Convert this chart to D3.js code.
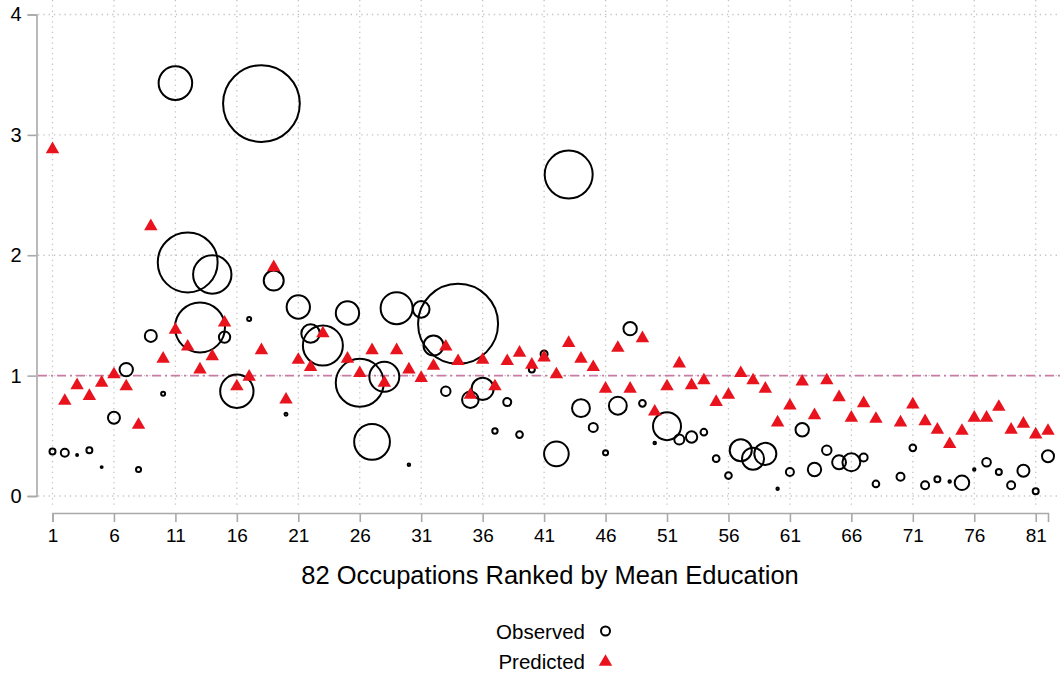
<!DOCTYPE html>
<html>
<head>
<meta charset="utf-8">
<script src="https://cdn.jsdelivr.net/npm/d3@7"></script>
<style>
  body { margin: 0; background: #fff; }
  svg { font-family: "Liberation Sans", Arial, Helvetica, sans-serif; }
</style>
</head>
<body>
<div id="chart"></div>
<script>
// occupations ranked 1..82 by mean education (24 and 69 not plotted)
const ranks = d3.range(1, 83);

const observed = [
  0.37, 0.36, 0.34, 0.38, 0.24, 0.65, 1.05, 0.22, 1.33, 0.85,
  3.43, 1.94, 1.40, 1.84, 1.32, 0.87, 1.47, 3.26, 1.79, 0.68,
  1.57, 1.35, 1.25, null, 1.52, 0.94, 0.45, 0.99, 1.56, 0.26,
  1.55, 1.25, 0.87, 1.43, 0.80, 0.89, 0.54, 0.78, 0.51, 1.05,
  1.18, 0.35, 2.67, 0.73, 0.57, 0.36, 0.75, 1.39, 0.77, 0.44,
  0.58, 0.47, 0.49, 0.53, 0.31, 0.17, 0.38, 0.31, 0.35, 0.06,
  0.20, 0.55, 0.22, 0.38, 0.28, 0.28, 0.32, 0.10, null, 0.16,
  0.40, 0.09, 0.14, 0.12, 0.11, 0.22, 0.28, 0.20, 0.09, 0.21,
  0.04, 0.33
];

// weights that size the observed circles
const weights = [
  0.56, 1, 0.06, 0.56, 0.06, 2.25, 2.8, 0.4, 2.25, 0.25,
  17.6, 56, 39, 23, 2, 17.4, 0.25, 92, 6.25, 0.14,
  8.5, 5.4, 25, null, 8.5, 36, 20, 14, 16, 0.1,
  4.3, 6.25, 1.4, 100, 4.3, 7.6, 0.45, 1, 0.7, 0.56,
  0.77, 9.5, 36, 5, 1.27, 0.4, 5, 2.8, 0.7, 0.1,
  12.25, 1.56, 2, 0.7, 0.7, 0.7, 7.6, 7.6, 7.6, 0.09,
  1, 2.8, 2.8, 1.4, 3, 5, 1, 0.7, null, 1,
  0.7, 1, 0.56, 0.09, 3.3, 0.09, 1.16, 0.56, 1, 2.25,
  0.56, 2.25
];

const predicted = [
  2.88, 0.79, 0.92, 0.83, 0.94, 1.01, 0.91, 0.59, 2.24, 1.14,
  1.38, 1.24, 1.05, 1.16, 1.44, 0.91, 0.99, 1.21, 1.90, 0.80,
  1.13, 1.07, 1.35, null, 1.14, 1.02, 1.21, 0.94, 1.21, 1.05,
  0.98, 1.08, 1.24, 1.12, 0.84, 1.13, 0.91, 1.12, 1.19, 1.09,
  1.15, 1.01, 1.27, 1.14, 1.07, 0.89, 1.23, 0.89, 1.31, 0.70,
  0.91, 1.10, 0.92, 0.96, 0.78, 0.84, 1.02, 0.96, 0.89, 0.61,
  0.75, 0.95, 0.67, 0.96, 0.82, 0.65, 0.77, 0.64, null, 0.61,
  0.76, 0.62, 0.55, 0.43, 0.54, 0.65, 0.65, 0.74, 0.55, 0.60,
  0.51, 0.54
];

const xTicks = [1, 6, 11, 16, 21, 26, 31, 36, 41, 46, 51, 56, 61, 66, 71, 76, 81];
const yTicks = [0, 1, 2, 3, 4];
const refValue = 1;
const xTitle = "82 Occupations Ranked by Mean Education";
const legendLabels = ["Observed", "Predicted"];

const W = 1060, H = 677;
const red = "#e8131d";
const axisGrey = "#a9a9a9";
const gridGrey = "#c4c4c4";

const svg = d3.select("#chart").append("svg")
  .attr("width", W)
  .attr("height", H);

const x = d3.scaleLinear().domain([1, 82]).range([52.5, 1048]);
const y = d3.scaleLinear().domain([0, 4]).range([496, 14.5]);
const r = d3.scaleSqrt().domain([0, 100]).range([0, 40]);

// grid
svg.append("g").selectAll("line")
  .data(yTicks)
  .enter().append("line")
  .attr("x1", 38).attr("x2", W)
  .attr("y1", d => y(d)).attr("y2", d => y(d))
  .attr("stroke", gridGrey)
  .attr("stroke-width", 1.3)
  .attr("stroke-dasharray", "1.3,4");

svg.append("g").selectAll("line")
  .data(xTicks)
  .enter().append("line")
  .attr("x1", d => x(d)).attr("x2", d => x(d))
  .attr("y1", 0).attr("y2", 506)
  .attr("stroke", gridGrey)
  .attr("stroke-width", 1.3)
  .attr("stroke-dasharray", "1.3,4");

// y axis
const yAxis = svg.append("g")
  .attr("transform", "translate(36.5,0)")
  .call(d3.axisLeft(y).tickValues(yTicks).tickSize(9).tickPadding(6).tickFormat(d3.format("d")));
yAxis.select(".domain").attr("stroke", axisGrey).attr("stroke-width", 1.6);
yAxis.selectAll(".tick line").attr("stroke", axisGrey).attr("stroke-width", 1.6);
yAxis.selectAll("text")
  .attr("font-size", 20)
  .attr("fill", "#000")
  .attr("font-family", "Liberation Sans, Arial, sans-serif");

// x axis
const xAxis = svg.append("g")
  .attr("transform", "translate(0,513)")
  .call(d3.axisBottom(x).tickValues(xTicks).tickSize(9).tickPadding(7).tickFormat(d3.format("d")));
xAxis.select(".domain").attr("stroke", axisGrey).attr("stroke-width", 1.6);
xAxis.selectAll(".tick line").attr("stroke", axisGrey).attr("stroke-width", 1.6);
xAxis.selectAll("text")
  .attr("font-size", 19)
  .attr("fill", "#000")
  .attr("font-family", "Liberation Sans, Arial, sans-serif");

// reference line at 1
svg.append("line")
  .attr("x1", 38).attr("x2", W)
  .attr("y1", y(refValue)).attr("y2", y(refValue))
  .attr("stroke", "#c97ba6")
  .attr("stroke-width", 1.6)
  .attr("stroke-dasharray", "9,4,2,4");

const obsData = ranks.map((k, i) => ({ k: k, v: observed[i], w: weights[i] }))
  .filter(d => d.v !== null);
const predData = ranks.map((k, i) => ({ k: k, v: predicted[i] }))
  .filter(d => d.v !== null);

// observed circles
svg.append("g").selectAll("circle")
  .data(obsData)
  .enter().append("circle")
  .attr("cx", d => x(d.k))
  .attr("cy", d => y(d.v))
  .attr("r", d => Math.max(r(d.w), 0.9))
  .attr("fill", "none")
  .attr("stroke", "#000")
  .attr("stroke-width", 2);

// predicted triangles
const tri = d3.symbol().type(d3.symbolTriangle).size(78);
svg.append("g").selectAll("path")
  .data(predData)
  .enter().append("path")
  .attr("d", tri)
  .attr("transform", d => "translate(" + x(d.k) + "," + y(d.v) + ")")
  .attr("fill", red);

// axis title
svg.append("text")
  .attr("x", 550)
  .attr("y", 584)
  .attr("text-anchor", "middle")
  .attr("font-size", 25.5)
  .attr("fill", "#000")
  .text(xTitle);

// legend
const legend = svg.append("g");
legend.append("text")
  .attr("x", 585).attr("y", 638.5)
  .attr("text-anchor", "end")
  .attr("font-size", 20.5)
  .attr("fill", "#000")
  .text(legendLabels[0]);
legend.append("circle")
  .attr("cx", 605.5).attr("cy", 631)
  .attr("r", 4.5)
  .attr("fill", "none")
  .attr("stroke", "#000")
  .attr("stroke-width", 2);
legend.append("text")
  .attr("x", 585).attr("y", 669)
  .attr("text-anchor", "end")
  .attr("font-size", 20.5)
  .attr("fill", "#000")
  .text(legendLabels[1]);
legend.append("path")
  .attr("d", tri)
  .attr("transform", "translate(605.5,662)")
  .attr("fill", red);
</script>
</body>
</html>
